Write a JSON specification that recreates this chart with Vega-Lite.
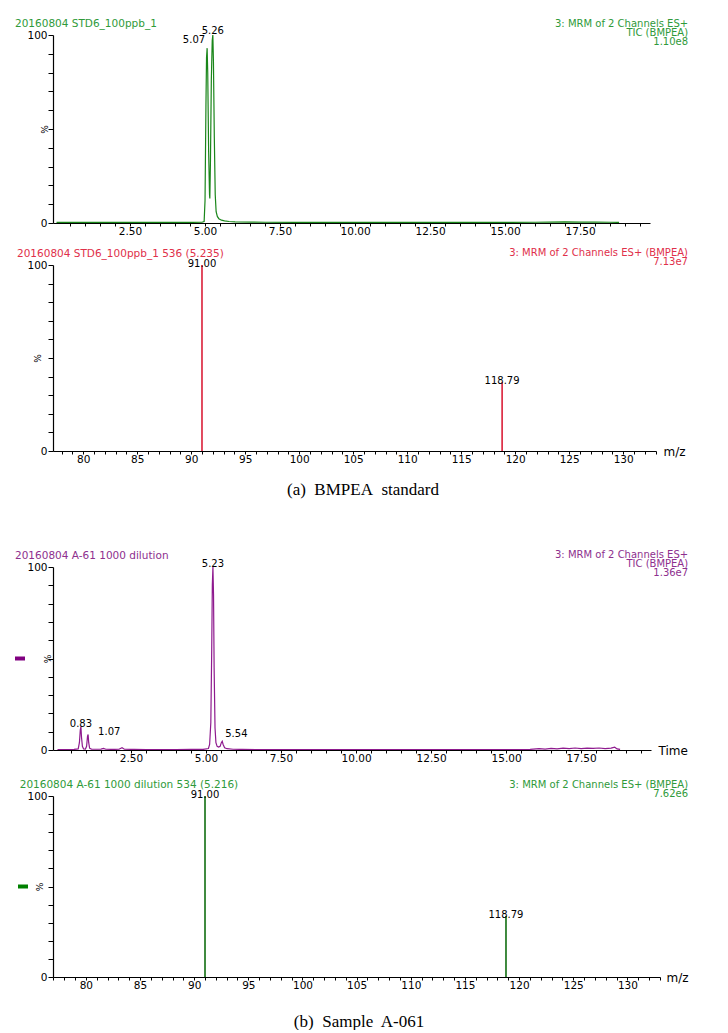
{
  "$schema": "https://vega.github.io/schema/vega-lite/v6.json",
  "background": "white",
  "padding": {"left": 14, "top": 19, "right": 4, "bottom": 0},
  "autosize": {"type": "pad"},
  "config": {
    "view": {"stroke": null},
    "font": "DejaVu Sans",
    "axis": {
      "grid": false,
      "domainColor": "#000000",
      "domainWidth": 1.2,
      "tickColor": "#000000",
      "tickWidth": 1,
      "tickCount": 200,
      "labelColor": "#000000",
      "labelFont": "DejaVu Sans",
      "labelFontSize": 10.5,
      "titleFont": "DejaVu Sans",
      "titleFontWeight": "normal",
      "titleColor": "#000000",
      "labelOverlap": false
    },
    "axisX": {"tickSize": 3, "labelPadding": 0},
    "axisY": {"tickSize": 5, "labelPadding": 1},
    "text": {"font": "DejaVu Sans", "fontSize": 10}
  },
  "align": "none",
  "columns": 1,
  "spacing": 50,
  "concat": [
    {
      "align": "none",
      "columns": 1,
      "spacing": 11,
      "concat": [
        {
          "width": 597,
          "height": 188,
          "layer": [
            {
              "data": {"values": [
                {"time": 0.05, "intensity": 0.3}, {"time": 0.5, "intensity": 0.3}, {"time": 1.0, "intensity": 0.4}, {"time": 1.5, "intensity": 0.3},
                {"time": 2.0, "intensity": 0.4}, {"time": 2.5, "intensity": 0.3}, {"time": 3.0, "intensity": 0.3}, {"time": 3.5, "intensity": 0.4},
                {"time": 4.0, "intensity": 0.3}, {"time": 4.5, "intensity": 0.3}, {"time": 4.9, "intensity": 0.4}, {"time": 4.97, "intensity": 0.8},
                {"time": 5.0, "intensity": 12}, {"time": 5.03, "intensity": 62}, {"time": 5.05, "intensity": 88}, {"time": 5.07, "intensity": 93},
                {"time": 5.09, "intensity": 80}, {"time": 5.12, "intensity": 38}, {"time": 5.15, "intensity": 15}, {"time": 5.16, "intensity": 13},
                {"time": 5.18, "intensity": 32}, {"time": 5.21, "intensity": 76}, {"time": 5.24, "intensity": 97}, {"time": 5.26, "intensity": 100},
                {"time": 5.28, "intensity": 86}, {"time": 5.31, "intensity": 45}, {"time": 5.34, "intensity": 15}, {"time": 5.37, "intensity": 6},
                {"time": 5.41, "intensity": 3.5}, {"time": 5.46, "intensity": 2.3}, {"time": 5.55, "intensity": 1.5}, {"time": 5.65, "intensity": 1.1},
                {"time": 5.8, "intensity": 0.8}, {"time": 6.0, "intensity": 0.6}, {"time": 6.5, "intensity": 0.5}, {"time": 7.0, "intensity": 0.4},
                {"time": 8.0, "intensity": 0.35}, {"time": 9.0, "intensity": 0.3}, {"time": 10.0, "intensity": 0.3}, {"time": 11.0, "intensity": 0.3},
                {"time": 12.0, "intensity": 0.35}, {"time": 13.0, "intensity": 0.3}, {"time": 14.0, "intensity": 0.3}, {"time": 15.0, "intensity": 0.3},
                {"time": 16.0, "intensity": 0.4}, {"time": 16.5, "intensity": 0.5}, {"time": 17.0, "intensity": 0.6}, {"time": 17.5, "intensity": 0.5},
                {"time": 18.0, "intensity": 0.5}, {"time": 18.5, "intensity": 0.4}, {"time": 18.8, "intensity": 0.3}
              ]},
              "mark": {"type": "line", "color": "#1a861a", "strokeWidth": 1.2, "clip": true},
              "encoding": {
                "x": {"field": "time", "type": "quantitative",
                  "scale": {"domain": [-0.067, 19.83], "nice": false, "zero": false},
                  "axis": {"title": null, "labelOverlap": false, "tickCount": 200,
                    "values": [0.5,1,1.5,2,2.5,3,3.5,4,4.5,5,5.5,6,6.5,7,7.5,8,8.5,9,9.5,10,10.5,11,11.5,12,12.5,13,13.5,14,14.5,15,15.5,16,16.5,17,17.5,18,18.5,19,19.5],
                    "labelExpr": "datum.value % 2.5 == 0 ? format(datum.value, '.2f') : ''"}},
                "y": {"field": "intensity", "type": "quantitative",
                  "scale": {"domain": [0, 100], "nice": false},
                  "axis": {"title": "%", "titleFontSize": 9, "titleX": -9, "titleY": 94, "titleBaseline": "middle", "titleAlign": "center", "labelOverlap": false, "tickCount": 200,
                    "values": [0,10,20,30,40,50,60,70,80,90,100],
                    "labelExpr": "datum.value == 0 || datum.value == 100 ? format(datum.value, 'd') : ''"}}
              }
            },
            {
              "data": {"values": [{"time": 5.07, "intensity": 93, "label": "5.07"}]},
              "mark": {"type": "text", "align": "right", "baseline": "middle", "dx": -2, "dy": -8, "color": "#000000"},
              "encoding": {
                "x": {"field": "time", "type": "quantitative"},
                "y": {"field": "intensity", "type": "quantitative"},
                "text": {"field": "label"}
              }
            },
            {
              "data": {"values": [{"time": 5.26, "intensity": 100, "label": "5.26"}]},
              "mark": {"type": "text", "align": "center", "baseline": "bottom", "dy": 1, "color": "#000000"},
              "encoding": {
                "x": {"field": "time", "type": "quantitative"},
                "y": {"field": "intensity", "type": "quantitative"},
                "text": {"field": "label"}
              }
            },
            {
              "data": {"values": [{"header": "20160804 STD6_100ppb_1"}]},
              "mark": {"type": "text", "align": "left", "baseline": "middle", "fontSize": 10.5, "color": "#2f9a3a", "clip": false},
              "encoding": {
                "x": {"datum": -1.334, "type": "quantitative"},
                "y": {"datum": 105.85, "type": "quantitative"},
                "text": {"field": "header"}
              }
            },
            {
              "data": {"values": [{"header": ["3: MRM of 2 Channels ES+", "TIC (BMPEA)", "1.10e8"]}]},
              "mark": {"type": "text", "align": "right", "baseline": "top", "fontSize": 10, "lineHeight": 9, "color": "#2f9a3a", "clip": false},
              "encoding": {
                "x": {"datum": 21.1, "type": "quantitative"},
                "y": {"datum": 108.5, "type": "quantitative"},
                "text": {"field": "header"}
              }
            }
          ]
        },
        {
          "width": 603,
          "height": 186,
          "layer": [
            {
              "data": {"values": [
                {"mz": 91.0, "intensity": 100, "label": "91.00"},
                {"mz": 118.79, "intensity": 37, "label": "118.79"}
              ]},
              "mark": {"type": "rule", "color": "#d8102c", "strokeWidth": 1.5},
              "encoding": {
                "x": {"field": "mz", "type": "quantitative",
                  "scale": {"domain": [77.204, 133.04], "nice": false, "zero": false},
                  "axis": {"title": "m/z", "titleFontSize": 12, "titleX": 610, "titleY": 0, "titleAngle": 0, "titleAlign": "left", "titleBaseline": "middle", "labelOverlap": false, "tickCount": 200,
                    "values": [78,79,80,81,82,83,84,85,86,87,88,89,90,91,92,93,94,95,96,97,98,99,100,101,102,103,104,105,106,107,108,109,110,111,112,113,114,115,116,117,118,119,120,121,122,123,124,125,126,127,128,129,130,131,132,133],
                    "labelExpr": "datum.value % 5 == 0 ? format(datum.value, 'd') : ''"}},
                "y": {"field": "intensity", "type": "quantitative",
                  "scale": {"domain": [0, 100], "nice": false},
                  "axis": {"title": "%", "titleFontSize": 9, "titleX": -16, "titleY": 93, "titleBaseline": "middle", "titleAlign": "center", "labelOverlap": false, "tickCount": 200,
                    "values": [0,10,20,30,40,50,60,70,80,90,100],
                    "labelExpr": "datum.value == 0 || datum.value == 100 ? format(datum.value, 'd') : ''"}},
                "y2": {"datum": 0}
              }
            },
            {
              "data": {"values": [
                {"mz": 91.0, "intensity": 100, "label": "91.00"},
                {"mz": 118.79, "intensity": 37, "label": "118.79"}
              ]},
              "mark": {"type": "text", "align": "center", "baseline": "bottom", "dy": 4, "color": "#000000"},
              "encoding": {
                "x": {"field": "mz", "type": "quantitative"},
                "y": {"field": "intensity", "type": "quantitative"},
                "text": {"field": "label"}
              }
            },
            {
              "data": {"values": [{"header": "20160804 STD6_100ppb_1 536 (5.235)"}]},
              "mark": {"type": "text", "align": "left", "baseline": "middle", "fontSize": 10.5, "color": "#e0304a", "clip": false},
              "encoding": {
                "x": {"datum": 73.87, "type": "quantitative"},
                "y": {"datum": 106.0, "type": "quantitative"},
                "text": {"field": "header"}
              }
            },
            {
              "data": {"values": [{"header": ["3: MRM of 2 Channels ES+  (BMPEA)", "7.13e7"]}]},
              "mark": {"type": "text", "align": "right", "baseline": "top", "fontSize": 10, "lineHeight": 9, "color": "#e0304a", "clip": false},
              "encoding": {
                "x": {"datum": 136.0, "type": "quantitative"},
                "y": {"datum": 109.0, "type": "quantitative"},
                "text": {"field": "header"}
              }
            },
            {
              "data": {"values": [{"caption": "(a)\u00a0 BMPEA\u00a0 standard"}]},
              "mark": {"type": "text", "align": "center", "baseline": "middle", "font": "Liberation Serif", "fontSize": 17, "color": "#000000", "clip": false},
              "encoding": {
                "x": {"datum": 105.91, "type": "quantitative"},
                "y": {"datum": -21, "type": "quantitative"},
                "text": {"field": "caption"}
              }
            }
          ]
        }
      ]
    },
    {
      "align": "none",
      "columns": 1,
      "spacing": 15,
      "concat": [
        {
          "width": 598,
          "height": 183,
          "layer": [
            {
              "data": {"values": [
                {"time": 0.05, "intensity": 0.2}, {"time": 0.3, "intensity": 0.2}, {"time": 0.6, "intensity": 0.3}, {"time": 0.74, "intensity": 0.6},
                {"time": 0.78, "intensity": 4}, {"time": 0.81, "intensity": 11}, {"time": 0.83, "intensity": 12.8}, {"time": 0.85, "intensity": 7},
                {"time": 0.88, "intensity": 2}, {"time": 0.92, "intensity": 0.6}, {"time": 0.98, "intensity": 0.5}, {"time": 1.02, "intensity": 2},
                {"time": 1.05, "intensity": 7.5}, {"time": 1.07, "intensity": 8.5}, {"time": 1.09, "intensity": 4}, {"time": 1.12, "intensity": 1},
                {"time": 1.18, "intensity": 0.5}, {"time": 1.35, "intensity": 0.4}, {"time": 1.5, "intensity": 0.5}, {"time": 1.58, "intensity": 0.9},
                {"time": 1.66, "intensity": 0.4}, {"time": 1.9, "intensity": 0.3}, {"time": 2.1, "intensity": 0.4}, {"time": 2.2, "intensity": 1.2},
                {"time": 2.28, "intensity": 0.4}, {"time": 2.6, "intensity": 0.3}, {"time": 3.0, "intensity": 0.2}, {"time": 3.5, "intensity": 0.2},
                {"time": 4.0, "intensity": 0.2}, {"time": 4.5, "intensity": 0.3}, {"time": 4.9, "intensity": 0.3}, {"time": 5.08, "intensity": 0.8},
                {"time": 5.12, "intensity": 3}, {"time": 5.16, "intensity": 15}, {"time": 5.19, "intensity": 55}, {"time": 5.21, "intensity": 90},
                {"time": 5.23, "intensity": 100}, {"time": 5.25, "intensity": 85}, {"time": 5.27, "intensity": 45}, {"time": 5.3, "intensity": 12},
                {"time": 5.33, "intensity": 4}, {"time": 5.37, "intensity": 2}, {"time": 5.42, "intensity": 1.6}, {"time": 5.47, "intensity": 2},
                {"time": 5.51, "intensity": 4}, {"time": 5.54, "intensity": 4.8}, {"time": 5.57, "intensity": 3}, {"time": 5.62, "intensity": 1.2},
                {"time": 5.7, "intensity": 0.7}, {"time": 5.9, "intensity": 0.4}, {"time": 6.2, "intensity": 0.3}, {"time": 7.0, "intensity": 0.2},
                {"time": 8.0, "intensity": 0.2}, {"time": 9.0, "intensity": 0.2}, {"time": 10.0, "intensity": 0.2}, {"time": 11.0, "intensity": 0.2},
                {"time": 12.0, "intensity": 0.2}, {"time": 13.0, "intensity": 0.2}, {"time": 14.0, "intensity": 0.2}, {"time": 15.0, "intensity": 0.2},
                {"time": 15.8, "intensity": 0.3}, {"time": 16.1, "intensity": 0.7}, {"time": 16.3, "intensity": 0.5}, {"time": 16.5, "intensity": 0.9},
                {"time": 16.7, "intensity": 0.6}, {"time": 16.9, "intensity": 1.0}, {"time": 17.1, "intensity": 0.7}, {"time": 17.3, "intensity": 1.1},
                {"time": 17.5, "intensity": 0.8}, {"time": 17.7, "intensity": 1.0}, {"time": 17.9, "intensity": 0.9}, {"time": 18.1, "intensity": 1.1},
                {"time": 18.3, "intensity": 0.8}, {"time": 18.5, "intensity": 1.0}, {"time": 18.62, "intensity": 1.5}, {"time": 18.7, "intensity": 0.6},
                {"time": 18.8, "intensity": 0.3}
              ]},
              "mark": {"type": "line", "color": "#8e1a8e", "strokeWidth": 1.2, "clip": true},
              "encoding": {
                "x": {"field": "time", "type": "quantitative",
                  "scale": {"domain": [-0.1, 19.83], "nice": false, "zero": false},
                  "axis": {"title": "Time", "titleFontSize": 12, "titleX": 605, "titleY": 0, "titleAngle": 0, "titleAlign": "left", "titleBaseline": "middle", "labelOverlap": false, "tickCount": 200,
                    "values": [0.5,1,1.5,2,2.5,3,3.5,4,4.5,5,5.5,6,6.5,7,7.5,8,8.5,9,9.5,10,10.5,11,11.5,12,12.5,13,13.5,14,14.5,15,15.5,16,16.5,17,17.5,18,18.5,19,19.5],
                    "labelExpr": "datum.value % 2.5 == 0 ? format(datum.value, '.2f') : ''"}},
                "y": {"field": "intensity", "type": "quantitative",
                  "scale": {"domain": [0, 100], "nice": false},
                  "axis": {"title": "%", "titleFontSize": 9, "titleX": -6, "titleY": 91.5, "titleBaseline": "middle", "titleAlign": "center", "labelOverlap": false, "tickCount": 200,
                    "values": [0,10,20,30,40,50,60,70,80,90,100],
                    "labelExpr": "datum.value == 0 || datum.value == 100 ? format(datum.value, 'd') : ''"}}
              }
            },
            {
              "data": {"values": [{"time": 0.83, "intensity": 12.8, "label": "0.83"}, {"time": 5.23, "intensity": 100, "label": "5.23"}]},
              "mark": {"type": "text", "align": "center", "baseline": "bottom", "dy": 2, "color": "#000000"},
              "encoding": {
                "x": {"field": "time", "type": "quantitative"},
                "y": {"field": "intensity", "type": "quantitative"},
                "text": {"field": "label"}
              }
            },
            {
              "data": {"values": [{"time": 1.07, "intensity": 8.5, "label": "1.07"}]},
              "mark": {"type": "text", "align": "left", "baseline": "middle", "dx": 10, "dy": -2, "color": "#000000"},
              "encoding": {
                "x": {"field": "time", "type": "quantitative"},
                "y": {"field": "intensity", "type": "quantitative"},
                "text": {"field": "label"}
              }
            },
            {
              "data": {"values": [{"time": 5.54, "intensity": 4.8, "label": "5.54"}]},
              "mark": {"type": "text", "align": "left", "baseline": "middle", "dx": 3, "dy": -7, "color": "#000000"},
              "encoding": {
                "x": {"field": "time", "type": "quantitative"},
                "y": {"field": "intensity", "type": "quantitative"},
                "text": {"field": "label"}
              }
            },
            {
              "data": {"values": [{"header": "20160804 A-61 1000 dilution"}]},
              "mark": {"type": "text", "align": "left", "baseline": "middle", "fontSize": 10.5, "color": "#8e2f8e", "clip": false},
              "encoding": {
                "x": {"datum": -1.367, "type": "quantitative"},
                "y": {"datum": 106.0, "type": "quantitative"},
                "text": {"field": "header"}
              }
            },
            {
              "data": {"values": [{"header": ["3: MRM of 2 Channels ES+", "TIC (BMPEA)", "1.36e7"]}]},
              "mark": {"type": "text", "align": "right", "baseline": "top", "fontSize": 10, "lineHeight": 9, "color": "#8e2f8e", "clip": false},
              "encoding": {
                "x": {"datum": 21.067, "type": "quantitative"},
                "y": {"datum": 109.3, "type": "quantitative"},
                "text": {"field": "header"}
              }
            },
            {
              "data": {"values": [{"series": "TIC"}]},
              "mark": {"type": "point", "shape": "M-1,-0.4H1V0.4H-1Z", "size": 100, "filled": true, "color": "#800080", "opacity": 1, "clip": false},
              "encoding": {
                "x": {"datum": -1.2, "type": "quantitative"},
                "y": {"datum": 50, "type": "quantitative"}
              }
            }
          ]
        },
        {
          "width": 607,
          "height": 181,
          "layer": [
            {
              "data": {"values": [
                {"mz": 91.0, "intensity": 100, "label": "91.00"},
                {"mz": 118.79, "intensity": 33.7, "label": "118.79"}
              ]},
              "mark": {"type": "rule", "color": "#006400", "strokeWidth": 1.5},
              "encoding": {
                "x": {"field": "mz", "type": "quantitative",
                  "scale": {"domain": [76.965, 133.01], "nice": false, "zero": false},
                  "axis": {"title": "m/z", "titleFontSize": 12, "titleX": 613, "titleY": 0, "titleAngle": 0, "titleAlign": "left", "titleBaseline": "middle", "labelOverlap": false, "tickCount": 200,
                    "values": [77,78,79,80,81,82,83,84,85,86,87,88,89,90,91,92,93,94,95,96,97,98,99,100,101,102,103,104,105,106,107,108,109,110,111,112,113,114,115,116,117,118,119,120,121,122,123,124,125,126,127,128,129,130,131,132,133],
                    "labelExpr": "datum.value % 5 == 0 ? format(datum.value, 'd') : ''"}},
                "y": {"field": "intensity", "type": "quantitative",
                  "scale": {"domain": [0, 100], "nice": false},
                  "axis": {"title": "%", "titleFontSize": 9, "titleX": -14, "titleY": 90.5, "titleBaseline": "middle", "titleAlign": "center", "labelOverlap": false, "tickCount": 200,
                    "values": [0,10,20,30,40,50,60,70,80,90,100],
                    "labelExpr": "datum.value == 0 || datum.value == 100 ? format(datum.value, 'd') : ''"}},
                "y2": {"datum": 0}
              }
            },
            {
              "data": {"values": [
                {"mz": 91.0, "intensity": 100, "label": "91.00"},
                {"mz": 118.79, "intensity": 33.7, "label": "118.79"}
              ]},
              "mark": {"type": "text", "align": "center", "baseline": "bottom", "dy": 4, "color": "#000000"},
              "encoding": {
                "x": {"field": "mz", "type": "quantitative"},
                "y": {"field": "intensity", "type": "quantitative"},
                "text": {"field": "label"}
              }
            },
            {
              "data": {"values": [{"header": "20160804 A-61 1000 dilution 534 (5.216)"}]},
              "mark": {"type": "text", "align": "left", "baseline": "middle", "fontSize": 10.5, "color": "#2f9a3a", "clip": false},
              "encoding": {
                "x": {"datum": 73.89, "type": "quantitative"},
                "y": {"datum": 106.0, "type": "quantitative"},
                "text": {"field": "header"}
              }
            },
            {
              "data": {"values": [{"header": ["3: MRM of 2 Channels ES+  (BMPEA)", "7.62e6"]}]},
              "mark": {"type": "text", "align": "right", "baseline": "top", "fontSize": 10, "lineHeight": 9, "color": "#2f9a3a", "clip": false},
              "encoding": {
                "x": {"datum": 135.6, "type": "quantitative"},
                "y": {"datum": 109.0, "type": "quantitative"},
                "text": {"field": "header"}
              }
            },
            {
              "data": {"values": [{"series": "spectrum"}]},
              "mark": {"type": "point", "shape": "M-1,-0.4H1V0.4H-1Z", "size": 100, "filled": true, "color": "#008000", "opacity": 1, "clip": false},
              "encoding": {
                "x": {"datum": 74.195, "type": "quantitative"},
                "y": {"datum": 50, "type": "quantitative"}
              }
            },
            {
              "data": {"values": [{"caption": "(b)\u00a0 Sample\u00a0 A-061"}]},
              "mark": {"type": "text", "align": "center", "baseline": "middle", "font": "Liberation Serif", "fontSize": 17, "color": "#000000", "clip": false},
              "encoding": {
                "x": {"datum": 105.22, "type": "quantitative"},
                "y": {"datum": -24.6, "type": "quantitative"},
                "text": {"field": "caption"}
              }
            }
          ]
        }
      ]
    }
  ]
}
